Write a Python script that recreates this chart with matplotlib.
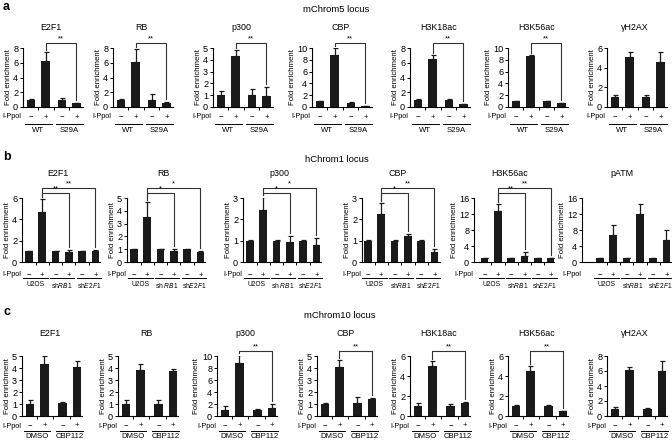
import numpy as np
import matplotlib.pyplot as plt
from matplotlib.transforms import blended_transform_factory

plt.rcParams['font.family'] = ['Liberation Sans', 'DejaVu Sans']
plt.rcParams['mathtext.fontset'] = 'custom'
plt.rcParams['mathtext.rm'] = 'Liberation Sans'
plt.rcParams['mathtext.it'] = 'Liberation Sans:italic'

# a - mChrom5 locus
a_titles = ['E2F1', 'RB', 'p300', 'CBP', 'H3K18ac', 'H3K56ac', 'γH2AX']
a_mean = [[1.0, 6.3, 1.0, 0.5], [1.0, 6.1, 1.0, 0.5], [1.0, 4.3, 1.0, 0.95],
          [1.0, 8.8, 0.75, 0.15], [1.0, 6.5, 1.0, 0.4], [1.0, 8.6, 0.95, 0.6],
          [1.0, 5.1, 1.0, 4.6]]
a_err = [[0.1, 1.1, 0.2, 0.1], [0.1, 1.7, 0.8, 0.2], [0.35, 0.5, 0.55, 0.75],
         [0.1, 1.2, 0.1, 0.05], [0.05, 0.5, 0.15, 0.05], [0.1, 0.2, 0.05, 0.05],
         [0.2, 0.45, 0.2, 1.0]]
a_ymax = [8, 8, 5, 10, 8, 10, 6]
a_step = [2, 2, 1, 2, 2, 2, 2]
a_sig = [[(3, '**')]] * 6 + [[]]
a_groups = ['WT', 'S29A']

# b - hChrom1 locus
b_titles = ['E2F1', 'RB', 'p300', 'CBP', 'H3K56ac', 'pATM']
b_mean = [[1.0, 4.7, 1.0, 0.9, 1.0, 1.0], [1.0, 3.5, 1.0, 0.85, 1.0, 0.8],
          [1.0, 2.45, 1.0, 0.92, 1.0, 0.78], [1.0, 2.25, 1.0, 1.2, 1.0, 0.45],
          [1.0, 12.7, 1.0, 1.5, 1.0, 1.0], [1.0, 6.8, 1.0, 12.0, 1.0, 5.6]]
b_err = [[0.03, 1.2, 0.03, 0.2, 0.03, 0.1], [0.02, 1.2, 0.02, 0.15, 0.02, 0.05],
         [0.02, 0.6, 0.02, 0.3, 0.02, 0.35], [0.02, 0.5, 0.02, 0.1, 0.02, 0.15],
         [0.05, 1.7, 0.05, 1.0, 0.05, 0.1], [0.05, 2.4, 0.05, 2.6, 0.05, 2.4]]
b_ymax = [6, 5, 3, 3, 16, 16]
b_step = [2, 1, 1, 1, 4, 4]
b_sig = [[(3, '**'), (5, '**')], [(3, '*'), (5, '*')], [(3, '*'), (5, '*')],
         [(3, '*'), (5, '**')], [(3, '**'), (5, '**')], []]
b_groups = [['U2OS', 'sh$\\it{RB1}$', 'sh$\\it{E2F1}$'],
            ['U2OS', 'sh $\\it{RB1}$', 'sh$\\it{E2F1}$'],
            ['U2OS', 'sh $\\it{RB1}$', 'sh$\\it{E2F1}$'],
            ['U2OS', 'sh$\\it{RB1}$', 'sh$\\it{E2F1}$'],
            ['U2OS', 'sh$\\it{RB1}$', 'sh$\\it{E2F1}$'],
            ['U2OS', 'sh$\\it{RB1}$', 'sh$\\it{E2F1}$']]

# c - mChrom10 locus
c_titles = ['E2F1', 'RB', 'p300', 'CBP', 'H3K18ac', 'H3K56ac', 'γH2AX']
c_mean = [[1.0, 4.3, 1.05, 4.05], [1.0, 3.85, 1.0, 3.75], [1.0, 8.9, 1.0, 1.4],
          [1.0, 4.1, 1.1, 1.45], [1.0, 5.05, 1.0, 1.3], [1.0, 4.55, 1.05, 0.5],
          [1.0, 6.1, 1.0, 6.0]]
c_err = [[0.3, 0.7, 0.08, 0.5], [0.3, 0.45, 0.35, 0.2], [0.7, 1.2, 0.15, 0.6],
         [0.1, 0.6, 0.45, 0.05], [0.3, 0.5, 0.2, 0.1], [0.1, 0.45, 0.05, 0.05],
         [0.2, 0.4, 0.05, 1.4]]
c_ymax = [5, 5, 10, 5, 6, 6, 8]
c_step = [1, 1, 2, 1, 2, 2, 2]
c_sig = [[], [], [(3, '**')], [(3, '**')], [(3, '**')], [(3, '**')], []]
c_groups = ['DMSO', 'CBP112']

signs = ['\u2212', '+']

W, H = 672, 441
fig = plt.figure(figsize=(W / 100, H / 100), dpi=100)
FS = 5.6
BAR = '#1a1a1a'


def panel(x0, ytop, w, h, xs, mean, err, ymax, step, title, sig, groups,
          title_dy, sign_dy, line_dy, grp_dy, xlim, ppol_dx, grp_fs=FS,
          title_x=0.47):
    ax = fig.add_axes([x0 / W, 1 - (ytop + h) / H, w / W, h / H])
    mean = np.array(mean)
    err = np.array(err)
    ax.bar(xs, mean, width=0.58, color=BAR, zorder=2)
    ax.errorbar(xs, mean, yerr=[np.zeros_like(err), err], fmt='none',
                ecolor=BAR, elinewidth=0.9, capsize=1.8, capthick=0.9)
    ax.set_xlim(*xlim)
    ax.set_ylim(0, ymax)
    ticks = np.arange(0, ymax + 0.01, step)
    ax.set_yticks(ticks)
    ax.set_yticklabels([str(int(v)) for v in ticks])
    ax.tick_params(axis='y', labelsize=FS + 1.0, length=2, width=0.7, pad=1.5)
    mids = [(xs[i] + xs[i + 1]) / 2 for i in range(len(xs) - 1)]
    ax.set_xticks(mids)
    ax.set_xticklabels([])
    ax.tick_params(axis='x', length=1.8, width=0.7)
    for s in ['top', 'right']:
        ax.spines[s].set_visible(False)
    for s in ['left', 'bottom']:
        ax.spines[s].set_linewidth(0.8)
    ax.set_ylabel('Fold enrichment', fontsize=FS, labelpad=1)
    ax.text(title_x, 1 + title_dy / h, title, transform=ax.transAxes,
            ha='center', va='center', fontsize=FS + 0.8)
    tr = blended_transform_factory(ax.transData, ax.transAxes)
    for i, x in enumerate(xs):
        ax.text(x, -sign_dy / h, signs[i % 2], transform=tr, ha='center',
                va='center', fontsize=FS)
    ax.text(-ppol_dx / w, -sign_dy / h, 'I-Ppol', transform=ax.transAxes,
            ha='right', va='center', fontsize=FS - 0.4)
    for g, name in enumerate(groups):
        xa, xb = xs[2 * g], xs[2 * g + 1]
        ax.plot([xa - 0.42, xb + 0.42], [-line_dy / h] * 2, transform=tr,
                color='k', lw=0.7, clip_on=False)
        ax.text((xa + xb) / 2, -grp_dy / h, name, transform=tr, ha='center',
                va='center', fontsize=grp_fs)
    # significance brackets, the nearer comparison sits lower
    for k, (j, lab) in enumerate(sig):
        yb = ymax * (1 + (5 + 5 * k) / h)
        ytop1 = mean[1] + err[1] + ymax * 2 / h
        ytop2 = mean[j] + err[j] + ymax * 3 / h
        ax.plot([xs[1], xs[1], xs[j], xs[j]], [ytop1, yb, yb, ytop2],
                color='#333333', lw=0.8, clip_on=False)
        ax.text((xs[1] + xs[j]) / 2, yb + ymax * 0.5 / h, lab, ha='center',
                va='bottom', fontsize=FS, clip_on=False)
    return ax


# row a
a_x0 = [23, 113, 213, 312, 410, 508, 607]
for i in range(7):
    panel(a_x0[i], 48, 60, 59, [0, 1, 2.1, 3.1], a_mean[i], a_err[i],
          a_ymax[i], a_step[i], a_titles[i], a_sig[i], a_groups,
          20, 10, 17, 24, (-0.55, 3.55), 2)

# row b
b_x0 = [22, 127, 243, 362, 474, 582]
b_w = [78, 78, 78, 78, 80, 92]
b_left = [-0.52, -0.52, -0.52, -0.45, -0.8, -1.35]
for i in range(6):
    w = b_w[i]
    right = b_left[i] + w / 13.3
    panel(b_x0[i], 198, w, 64, [0, 1, 2, 3, 4, 5], b_mean[i], b_err[i],
          b_ymax[i], b_step[i], b_titles[i], b_sig[i], b_groups[i],
          25, 13, 16, 23, (b_left[i], right), 1, grp_fs=FS - 0.8,
          title_x=(36 if i < 5 else 40) / w)

# row c
c_x0 = [22, 118, 217, 317, 410, 508, 607]
for i in range(7):
    panel(c_x0[i], 356, 60, 60, [0, 1, 2.25, 3.25], c_mean[i], c_err[i],
          c_ymax[i], c_step[i], c_titles[i], c_sig[i], c_groups,
          23, 10, 15, 20, (-0.55, 3.6), 1)

fig.text(3 / W, 1 - 7 / H, 'a', fontsize=9, fontweight='bold', va='center')
fig.text(3 / W, 1 - 157 / H, 'b', fontsize=9, fontweight='bold', va='center')
fig.text(3 / W, 1 - 312 / H, 'c', fontsize=9, fontweight='bold', va='center')
fig.text(336 / W, 1 - 10 / H, 'mChrom5 locus', fontsize=FS + 1.2, ha='center', va='center')
fig.text(337 / W, 1 - 160 / H, 'hChrom1 locus', fontsize=FS + 1.2, ha='center', va='center')
fig.text(340 / W, 1 - 315 / H, 'mChrom10 locus', fontsize=FS + 1.2, ha='center', va='center')

fig.savefig('out.png', dpi=100)
